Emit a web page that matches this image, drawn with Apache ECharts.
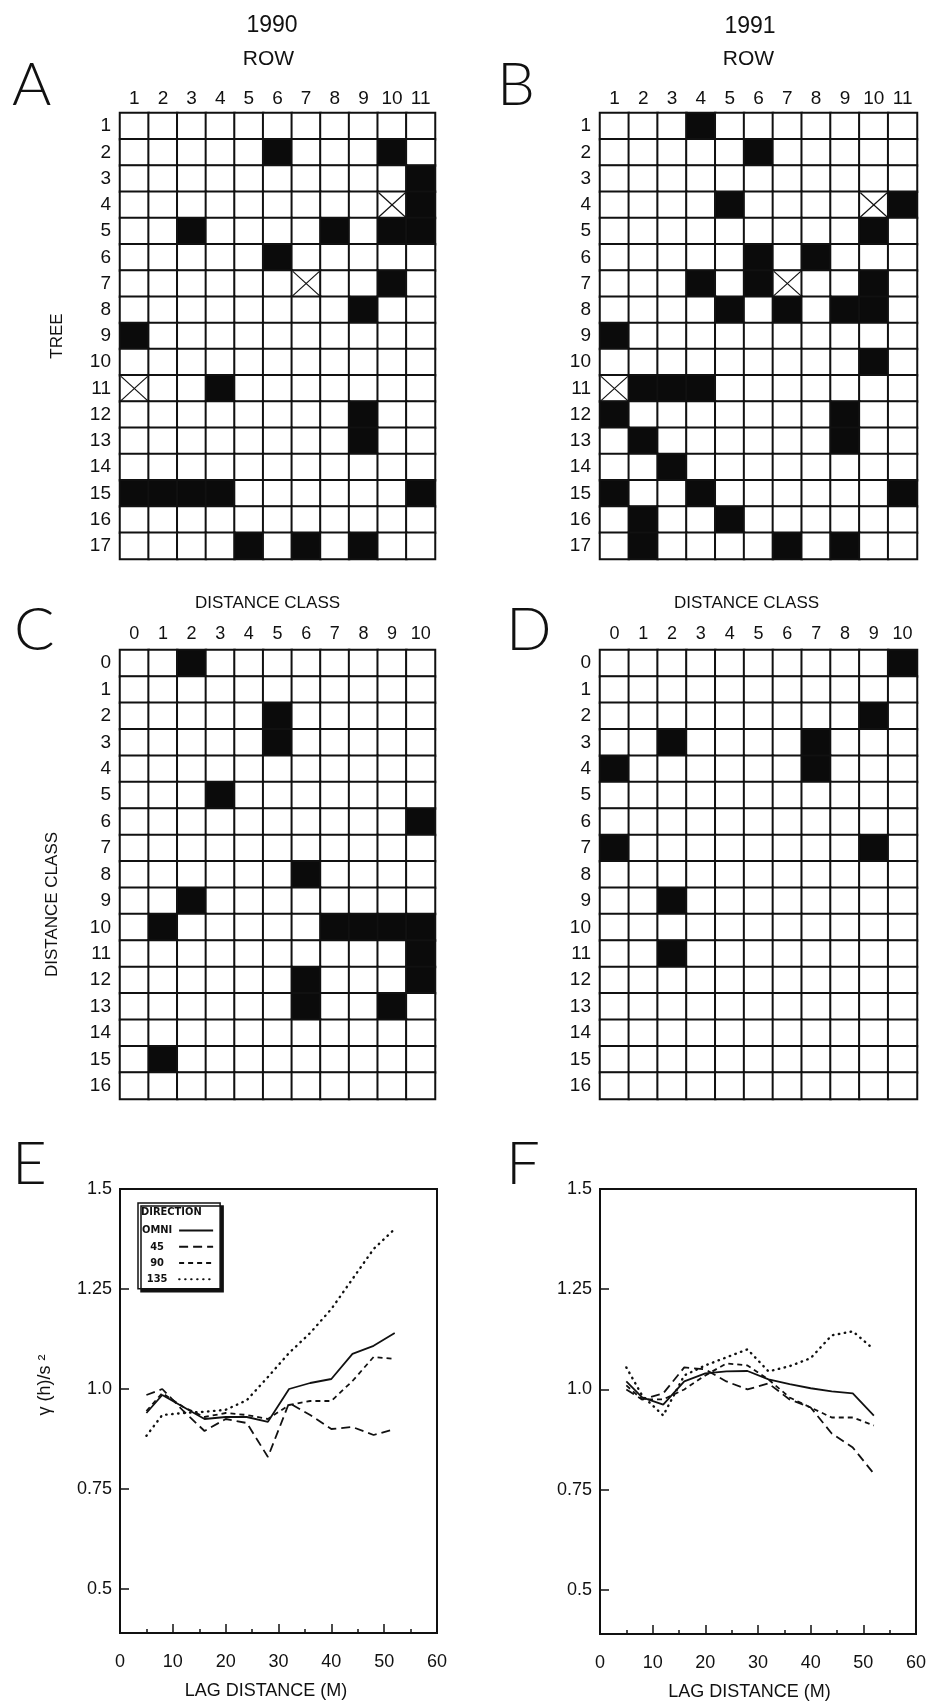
<!DOCTYPE html>
<html>
<head>
<meta charset="utf-8">
<script src="https://cdn.jsdelivr.net/npm/echarts@6/dist/echarts.min.js"></script>
<style>
html,body{margin:0;padding:0;background:#fff;}
#chart{width:929px;height:1704px;}
</style>
</head>
<body>
<div id="chart"></div>
<script>
// ---------- DATA ----------
const treeLabels = ['1','2','3','4','5','6','7','8','9','10','11','12','13','14','15','16','17'];
const rowLabels = ['1','2','3','4','5','6','7','8','9','10','11'];
const classRowLabels = ['0','1','2','3','4','5','6','7','8','9','10','11','12','13','14','15','16'];
const classColLabels = ['0','1','2','3','4','5','6','7','8','9','10'];

// filled cells as [column label, row label]
const filledA = [[6,2],[10,2],[11,3],[11,4],[3,5],[8,5],[10,5],[11,5],[6,6],[10,7],[9,8],[1,9],[4,11],[9,12],[9,13],[1,15],[2,15],[3,15],[4,15],[11,15],[5,17],[7,17],[9,17]];
const crossA = [[10,4],[7,7],[1,11]];
const filledB = [[4,1],[6,2],[5,4],[11,4],[10,5],[6,6],[8,6],[4,7],[6,7],[10,7],[5,8],[7,8],[9,8],[10,8],[1,9],[10,10],[2,11],[3,11],[4,11],[1,12],[9,12],[2,13],[9,13],[3,14],[1,15],[4,15],[11,15],[2,16],[5,16],[2,17],[7,17],[9,17]];
const crossB = [[10,4],[7,7],[1,11]];
const filledC = [[2,0],[5,2],[5,3],[3,5],[10,6],[6,8],[2,9],[1,10],[7,10],[8,10],[9,10],[10,10],[10,11],[6,12],[10,12],[6,13],[9,13],[1,15]];
const filledD = [[10,0],[9,2],[2,3],[7,3],[0,4],[7,4],[0,7],[9,7],[2,9],[2,11]];

// semivariograms
const lags = [5, 8, 12, 16, 20, 24, 28, 32, 36, 40, 44, 48, 52];
const omniE = [0.94, 0.985, 0.955, 0.925, 0.93, 0.93, 0.918, 1.0, 1.015, 1.025, 1.088, 1.108, 1.14];
const dir45E = [0.985, 1.0, 0.945, 0.895, 0.925, 0.915, 0.83, 0.965, 0.935, 0.9, 0.905, 0.885, 0.9];
const dir90E = [0.945, 0.99, 0.955, 0.93, 0.94, 0.935, 0.925, 0.96, 0.97, 0.97, 1.02, 1.08, 1.075];
const dir135E = [0.883, 0.935, 0.94, 0.943, 0.948, 0.972, 1.03, 1.09, 1.14, 1.2, 1.275, 1.35, 1.4];
const omniF = [1.02, 0.98, 0.962, 1.02, 1.04, 1.045, 1.046, 1.025, 1.013, 1.003, 0.995, 0.99, 0.935];
const dir45F = [1.0, 0.975, 0.99, 1.055, 1.05, 1.02, 1.0, 1.015, 0.975, 0.955, 0.89, 0.855, 0.79];
const dir90F = [1.01, 0.975, 0.975, 1.0, 1.035, 1.065, 1.06, 1.025, 0.98, 0.955, 0.93, 0.93, 0.91];
const dir135F = [1.055, 0.985, 0.935, 1.035, 1.06, 1.08, 1.1, 1.045, 1.058, 1.078, 1.135, 1.145, 1.1];

const yTickValues = [0.5, 0.75, 1.0, 1.25, 1.5];
const yTickLabels = ['0.5', '0.75', '1.0', '1.25', '1.5'];
const directionNames = ['OMNI', '45', '90', '135'];

// ---------- STYLE ----------
const FONT = "'Liberation Sans', Arial, sans-serif";
const NARROW = "'Liberation Sans Narrow', 'DejaVu Sans Condensed', 'Liberation Sans', sans-serif";
const LETTER = "Lato, 'Open Sans', 'Liberation Sans', sans-serif";
const INK = '#111';

function heatData(cols, rows, filled) {
  const on = new Set(filled.map(p => p[0] + '|' + p[1]));
  const out = [];
  rows.forEach((r, j) => cols.forEach((c, i) => out.push([i, j, on.has(c + '|' + r) ? 1 : 0])));
  return out;
}
function crossData(cols, rows, crosses) {
  return crosses.map(p => [cols.indexOf(String(p[0])), rows.indexOf(String(p[1]))]);
}

const grids = [
  {left: 120, top: 113, width: 315, height: 446},
  {left: 600, top: 113, width: 317, height: 446},
  {left: 120, top: 650, width: 315, height: 449},
  {left: 600, top: 650, width: 317, height: 449},
  {left: 120, top: 1189, width: 317, height: 444, show: true, borderColor: INK, borderWidth: 2},
  {left: 600, top: 1189, width: 317, height: 445, show: true, borderColor: INK, borderWidth: 2}
];

function heatX(gi, cats, name, gap, padRight, fs, margin) {
  return {
    type: 'category', gridIndex: gi, data: cats, position: 'top',
    axisLine: {show: false}, axisTick: {show: false}, splitLine: {show: false},
    axisLabel: {color: INK, fontSize: fs, fontFamily: FONT, margin: margin, interval: 0},
    name: name, nameLocation: 'middle', nameGap: gap,
    nameTextStyle: {color: INK, fontSize: name === 'ROW' ? 21 : 17, fontFamily: FONT, padding: [0, padRight, 0, 0]}
  };
}
function heatY(gi, cats, name, gap, pad) {
  return {
    type: 'category', gridIndex: gi, data: cats, inverse: true,
    axisLine: {show: false}, axisTick: {show: false}, splitLine: {show: false},
    axisLabel: {color: INK, fontSize: 19, fontFamily: FONT, margin: 9, interval: 0},
    name: name, nameLocation: 'middle', nameGap: gap, nameRotate: 90,
    nameTextStyle: {color: INK, fontSize: 17, fontFamily: FONT, padding: pad}
  };
}
function lagX(gi, padRight) {
  return {
    type: 'value', gridIndex: gi, min: 0, max: 60, interval: 10,
    axisLine: {show: true, lineStyle: {color: INK, width: 2}},
    axisTick: {show: true, inside: true, length: 9, lineStyle: {color: INK, width: 1.5}},
    minorTick: {show: true, splitNumber: 2, length: 4, lineStyle: {color: INK, width: 1.5}},
    splitLine: {show: false},
    axisLabel: {color: INK, fontSize: 18, fontFamily: FONT, margin: 20},
    name: 'LAG DISTANCE (M)', nameLocation: 'middle', nameGap: 49,
    nameTextStyle: {color: INK, fontSize: 18, fontFamily: FONT, padding: [0, padRight, 0, 0]}
  };
}
function gammaY(gi, name) {
  return {
    type: 'value', gridIndex: gi, min: 0.39, max: 1.5,
    axisLine: {show: true, lineStyle: {color: INK, width: 2}},
    axisTick: {show: true, inside: true, length: 9, customValues: yTickValues, lineStyle: {color: INK, width: 1.5}},
    splitLine: {show: false},
    axisLabel: {
      color: INK, fontSize: 18, fontFamily: FONT, margin: 8, customValues: yTickValues,
      formatter: v => { const i = yTickValues.findIndex(t => Math.abs(t - v) < 1e-6); return i < 0 ? '' : yTickLabels[i]; }
    },
    name: name, nameLocation: 'middle', nameRotate: 90, nameGap: 66,
    nameTextStyle: {color: INK, fontSize: 18, fontFamily: FONT, padding: [0, 0, 0, 52]}
  };
}

function heatSeries(gi, cols, rows, filled) {
  return {
    type: 'heatmap', xAxisIndex: gi, yAxisIndex: gi, data: heatData(cols, rows, filled),
    itemStyle: {borderColor: INK, borderWidth: 2}, emphasis: {disabled: true}, silent: true
  };
}
function crossSeries(gi, cols, rows, crosses) {
  return {
    type: 'custom', xAxisIndex: gi, yAxisIndex: gi, z: 5, silent: true,
    encode: {x: 0, y: 1},
    data: crossData(cols, rows, crosses),
    renderItem: (params, api) => {
      const c = api.coord([api.value(0), api.value(1)]);
      const s = api.size([1, 1]);
      const w = s[0] / 2 - 1, h = s[1] / 2 - 1;
      const st = {stroke: INK, lineWidth: 1.2};
      return {type: 'group', children: [
        {type: 'line', shape: {x1: c[0] - w, y1: c[1] - h, x2: c[0] + w, y2: c[1] + h}, style: st},
        {type: 'line', shape: {x1: c[0] - w, y1: c[1] + h, x2: c[0] + w, y2: c[1] - h}, style: st}
      ]};
    }
  };
}
const dashTypes = ['solid', [9, 5], [5, 4], [0.5, 5.5]];
function lineSeries(gi, idx, vals) {
  return {
    type: 'line', name: directionNames[idx], xAxisIndex: gi, yAxisIndex: gi,
    data: lags.map((x, i) => [x, vals[i]]), symbol: 'none', silent: true,
    lineStyle: {color: INK, width: idx === 3 ? 2.4 : 1.8, type: dashTypes[idx], cap: idx === 3 ? 'round' : 'butt'},
    itemStyle: {color: INK}
  };
}

const letter = (t, x, y) => ({type: 'text', x: x, y: y, z: 10,
  style: {text: t, fontSize: 60, fontFamily: LETTER, fontWeight: 300, fill: INK, align: 'left', verticalAlign: 'middle'}});
const title = (t, x, y) => ({type: 'text', x: x, y: y, z: 10,
  style: {text: t, fontSize: 23, fontFamily: FONT, fill: INK, align: 'center', verticalAlign: 'middle'}});

const option = {
  animation: false,
  backgroundColor: '#fff',
  grid: grids,
  xAxis: [
    heatX(0, rowLabels, 'ROW', 43, 18, 19, 5),
    heatX(1, rowLabels, 'ROW', 43, 20, 19, 5),
    heatX(2, classColLabels, 'DISTANCE CLASS', 38, 20, 18, 7),
    heatX(3, classColLabels, 'DISTANCE CLASS', 38, 24, 18, 7),
    lagX(4, 25),
    lagX(5, 17)
  ],
  yAxis: [
    heatY(0, treeLabels, 'TREE', 54, [0, 0, 0, 0]),
    heatY(1, treeLabels, '', 54, [0, 0, 0, 0]),
    heatY(2, classRowLabels, 'DISTANCE CLASS', 59, [0, 60, 0, 0]),
    heatY(3, classRowLabels, '', 59, [0, 0, 0, 0]),
    gammaY(4, 'γ (h)/s ²'),
    gammaY(5, '')
  ],
  visualMap: {
    type: 'piecewise', show: false, seriesIndex: [0, 1, 2, 3], dimension: 2,
    pieces: [{value: 0, color: '#fff'}, {value: 1, color: '#0b0b0b'}]
  },
  legend: {
    data: directionNames, orient: 'vertical', left: 138, top: 1203,
    padding: [22, 6, 4, 4], itemGap: 5, itemWidth: 34, itemHeight: 14, align: 'right',
    selectedMode: false, backgroundColor: '#fff', borderColor: INK, borderWidth: 1.5,
    shadowColor: INK, shadowOffsetX: 3, shadowOffsetY: 3, shadowBlur: 0,
    itemStyle: {color: 'rgba(0,0,0,0)', borderWidth: 0, borderColor: 'rgba(0,0,0,0)'},
    formatter: n => '{t|' + n + '}',
    textStyle: {color: INK, fontSize: 11, fontWeight: 'bold', fontFamily: NARROW,
      rich: {t: {width: 34, align: 'center', color: INK, fontSize: 11, fontWeight: 'bold', fontFamily: NARROW}}}
  },
  graphic: [
    letter('A', 12, 86), letter('B', 497, 86),
    letter('C', 14, 631), letter('D', 506, 631),
    letter('E', 12, 1165), letter('F', 506, 1165),
    title('1990', 272, 26), title('1991', 750, 27),
    {type: 'text', x: 141, y: 1212, z: 10,
      style: {text: 'DIRECTION', fontSize: 11, fontWeight: 'bold', fontFamily: NARROW, fill: INK, align: 'left', verticalAlign: 'middle'}}
  ],
  series: [
    heatSeries(0, rowLabels, treeLabels, filledA),
    heatSeries(1, rowLabels, treeLabels, filledB),
    heatSeries(2, classColLabels, classRowLabels, filledC),
    heatSeries(3, classColLabels, classRowLabels, filledD),
    crossSeries(0, rowLabels, treeLabels, crossA),
    crossSeries(1, rowLabels, treeLabels, crossB),
    lineSeries(4, 0, omniE), lineSeries(4, 1, dir45E), lineSeries(4, 2, dir90E), lineSeries(4, 3, dir135E),
    lineSeries(5, 0, omniF), lineSeries(5, 1, dir45F), lineSeries(5, 2, dir90F), lineSeries(5, 3, dir135F)
  ]
};

const chart = echarts.init(document.getElementById('chart'), null, {renderer: 'canvas', width: 929, height: 1704});
chart.setOption(option);
</script>
</body>
</html>
